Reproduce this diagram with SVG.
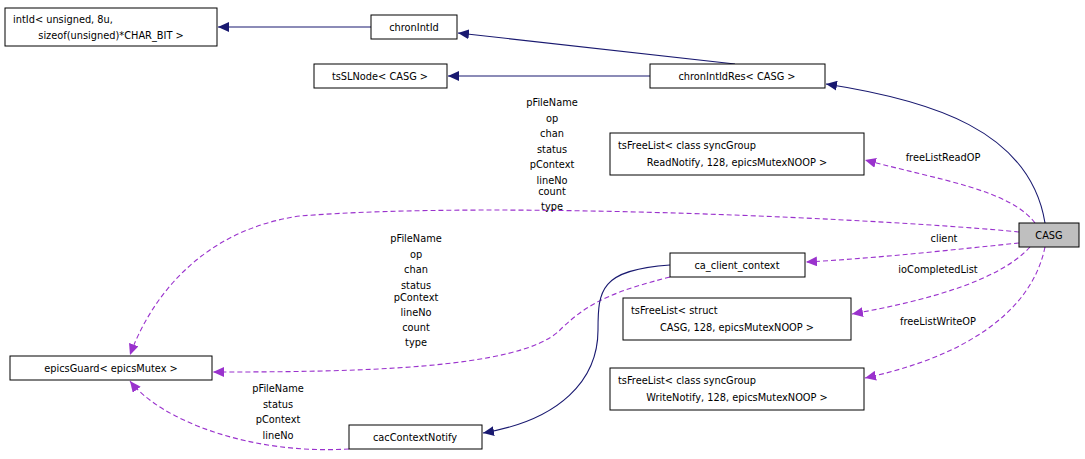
<svg xmlns="http://www.w3.org/2000/svg" width="1085" height="459" viewBox="0 0 1085 459">
<style>
text{font-family:"DejaVu Sans",sans-serif;font-size:9.8px;fill:#000}
.n{fill:#fff;stroke:#000;stroke-width:1}
.s{fill:none;stroke:#191970;stroke-width:1.1}
.d{fill:none;stroke:#9a32cd;stroke-width:1.1;stroke-dasharray:5,3}
.l text{text-anchor:middle}
</style>
<defs>
<marker id="an" markerWidth="12" markerHeight="10" refX="11" refY="5" orient="auto" markerUnits="userSpaceOnUse"><path d="M0,0 L11,5 L0,10 z" fill="#191970"/></marker>
<marker id="ap" markerWidth="12" markerHeight="10" refX="11" refY="5" orient="auto" markerUnits="userSpaceOnUse"><path d="M0,0 L11,5 L0,10 z" fill="#9a32cd"/></marker>
</defs>
<rect width="1085" height="459" fill="#fff"/>
<g id="connectors">
<path class="s" marker-end="url(#an)" d="M371,27 L218,27"/>
<path class="s" marker-end="url(#an)" d="M735,64 L458,33"/>
<path class="s" marker-end="url(#an)" d="M650,76 L448,76"/>
<path class="s" marker-end="url(#an)" d="M1045,223 C1030,130 930,100 826,84"/>
<path class="d" marker-end="url(#ap)" d="M1035,223 C1010,190 940,180 865,160"/>
<path class="d" marker-end="url(#ap)" d="M1019,232 C900,220 500,200 300,216 C200,230 150,300 130,355"/>
<path class="d" marker-end="url(#ap)" d="M1019,243 C950,250 880,258 806,262"/>
<path class="d" marker-end="url(#ap)" d="M1030,247 C1000,280 930,300 852,314"/>
<path class="d" marker-end="url(#ap)" d="M1045,247 C1030,320 950,360 865,378"/>
<path class="d" marker-end="url(#ap)" d="M670,277 C620,290 590,300 560,330 C520,370 350,372 213,372"/>
<path class="d" marker-end="url(#ap)" d="M349,449 C250,455 160,420 130,381"/>
<path class="s" marker-end="url(#an)" d="M670,265 C600,270 598,290 598,330 C598,380 560,420 483,433"/>
</g>
<g class="l">
<text x="552" y="106">pFileName</text><text x="552" y="122">op</text><text x="552" y="137">chan</text><text x="552" y="153">status</text><text x="552" y="168">pContext</text><text x="552" y="184">lineNo</text><text x="552" y="195">count</text><text x="552" y="210">type</text>
<text x="943" y="161">freeListReadOP</text>
<text x="944" y="242">client</text>
<text x="938" y="273">ioCompletedList</text>
<text x="938" y="325">freeListWriteOP</text>
<text x="416" y="242">pFileName</text><text x="416" y="258">op</text><text x="416" y="273">chan</text><text x="416" y="289">status</text><text x="416" y="301">pContext</text><text x="416" y="316">lineNo</text><text x="416" y="331">count</text><text x="416" y="346">type</text>
<text x="278" y="392">pFileName</text><text x="278" y="408">status</text><text x="278" y="423">pContext</text><text x="278" y="439">lineNo</text>
</g>
<g id="intId"><rect class="n" x="5" y="8" width="212" height="38"/><text x="13" y="23">intId&lt; unsigned, 8u,</text><text x="111" y="39" text-anchor="middle">sizeof(unsigned)*CHAR_BIT &gt;</text></g>
<g id="chronIntId"><rect class="n" x="371" y="15" width="86" height="24"/><text x="414" y="31" text-anchor="middle">chronIntId</text></g>
<g id="tsSLNode"><rect class="n" x="314" y="64" width="133" height="24"/><text x="380" y="80" text-anchor="middle">tsSLNode&lt; CASG &gt;</text></g>
<g id="chronIntIdRes"><rect class="n" x="650" y="64" width="175" height="24"/><text x="737" y="80" text-anchor="middle">chronIntIdRes&lt; CASG &gt;</text></g>
<g id="tsFreeListRead"><rect class="n" x="610" y="133" width="254" height="42"/><text x="618" y="149">tsFreeList&lt; class syncGroup</text><text x="737" y="166" text-anchor="middle">ReadNotify, 128, epicsMutexNOOP &gt;</text></g>
<g id="CASG"><rect x="1019" y="223" width="60" height="24" fill="#bfbfbf" stroke="#000"/><text x="1049" y="239" text-anchor="middle">CASG</text></g>
<g id="ca_client_context"><rect class="n" x="670" y="253" width="135" height="24"/><text x="737" y="269" text-anchor="middle">ca_client_context</text></g>
<g id="tsFreeListCASG"><rect class="n" x="623" y="298" width="228" height="42"/><text x="631" y="314">tsFreeList&lt; struct</text><text x="737" y="331" text-anchor="middle">CASG, 128, epicsMutexNOOP &gt;</text></g>
<g id="epicsGuard"><rect class="n" x="10" y="356" width="202" height="24"/><text x="111" y="372" text-anchor="middle">epicsGuard&lt; epicsMutex &gt;</text></g>
<g id="tsFreeListWrite"><rect class="n" x="610" y="368" width="254" height="42"/><text x="618" y="384">tsFreeList&lt; class syncGroup</text><text x="737" y="401" text-anchor="middle">WriteNotify, 128, epicsMutexNOOP &gt;</text></g>
<g id="cacContextNotify"><rect class="n" x="349" y="425" width="133" height="24"/><text x="415" y="441" text-anchor="middle">cacContextNotify</text></g>
</svg>
